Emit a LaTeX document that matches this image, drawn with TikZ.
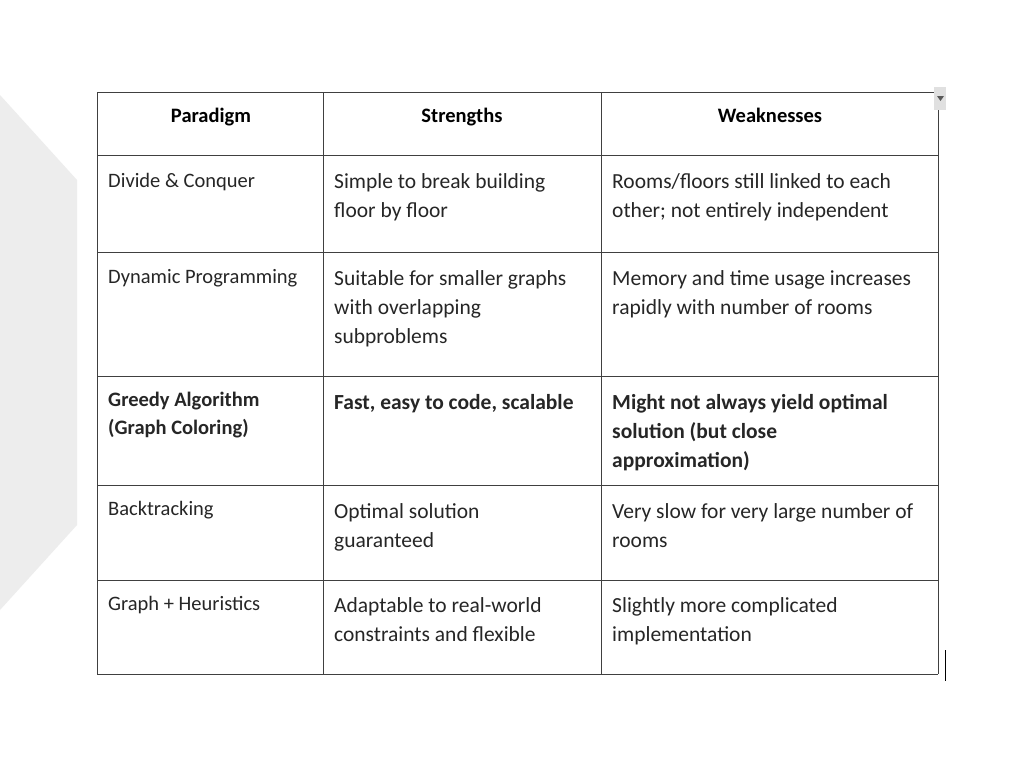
\documentclass[tikz,border=0pt]{standalone}
\usepackage{fontspec}
\setmainfont{Carlito}
\begin{document}
\begin{tikzpicture}[x=1pt,y=-1pt,
  grid/.style={draw=black!75,line width=0.9pt},
  cell/.style={anchor=base west,inner sep=0pt,font=\fontsize{21.5}{29}\selectfont,text=black!85},
  cellA/.style={cell,font=\fontsize{20.5}{28}\selectfont},
  bcell/.style={cell,font=\fontsize{21.5}{29}\selectfont\bfseries},
  bcellA/.style={cell,font=\fontsize{20.5}{28}\selectfont\bfseries},
  head/.style={anchor=base,inner sep=0pt,font=\fontsize{20.5}{24}\selectfont\bfseries}]
\useasboundingbox (0,0) rectangle (1024,768);
\fill[white] (0,0) rectangle (1024,768);
\fill[black!7] (0,95) -- (77,180) -- (77,525) -- (0,610) -- cycle;
% grid
\foreach \y in {92,155,252,376,485,580,674} \draw[grid] (97,\y) -- (938,\y);
\foreach \x in {97,323,601,938} \draw[grid] (\x,92) -- (\x,674);
% widget
\fill[black!12] (934,87) rectangle (946,110);
\fill[black!65] (937,96) -- (944,96) -- (940.5,101) -- cycle;
\draw[black,line width=1pt] (945,650) -- (945,681);
% header
\node[head] (h1) at (211,122) {Paradigm};
\node[head] (h2) at (462,122) {Strengths};
\node[head] (h3) at (770,122) {Weaknesses};
% row 1
\node[cellA] (a1) at (108,187) {Divide \& Conquer};
\node[cell] (b1) at (334,188) {Simple to break building};
\node[cell] (b1b) at (334,217) {floor by floor};
\node[cell] (c1) at (612,188) {Rooms/floors still linked to each};
\node[cell] (c1b) at (612,217) {other; not entirely independent};
% row 2
\node[cellA] (a2) at (108,283) {Dynamic Programming};
\node[cell] (b2) at (334,285) {Suitable for smaller graphs};
\node[cell] (b2b) at (334,314) {with overlapping};
\node[cell] (b2c) at (334,343) {subproblems};
\node[cell] (c2) at (612,285) {Memory and time usage increases};
\node[cell] (c2b) at (612,314) {rapidly with number of rooms};
% row 3
\node[bcellA] (a3) at (108,406) {Greedy Algorithm};
\node[bcellA] (a3b) at (108,434) {(Graph Coloring)};
\node[bcell] (b3) at (334,409) {Fast, easy to code, scalable};
\node[bcell] (c3) at (612,409) {Might not always yield optimal};
\node[bcell] (c3b) at (612,438) {solution (but close};
\node[bcell] (c3c) at (612,467) {approximation)};
% row 4
\node[cellA] (a4) at (108,515) {Backtracking};
\node[cell] (b4) at (334,518) {Optimal solution};
\node[cell] (b4b) at (334,547) {guaranteed};
\node[cell] (c4) at (612,518) {Very slow for very large number of};
\node[cell] (c4b) at (612,547) {rooms};
% row 5
\node[cellA] (a5) at (108,610) {Graph + Heuristics};
\node[cell] (b5) at (334,612) {Adaptable to real-world};
\node[cell] (b5b) at (334,641) {constraints and flexible};
\node[cell] (c5) at (612,612) {Slightly more complicated};
\node[cell] (c5b) at (612,641) {implementation};
\end{tikzpicture}
\end{document}
